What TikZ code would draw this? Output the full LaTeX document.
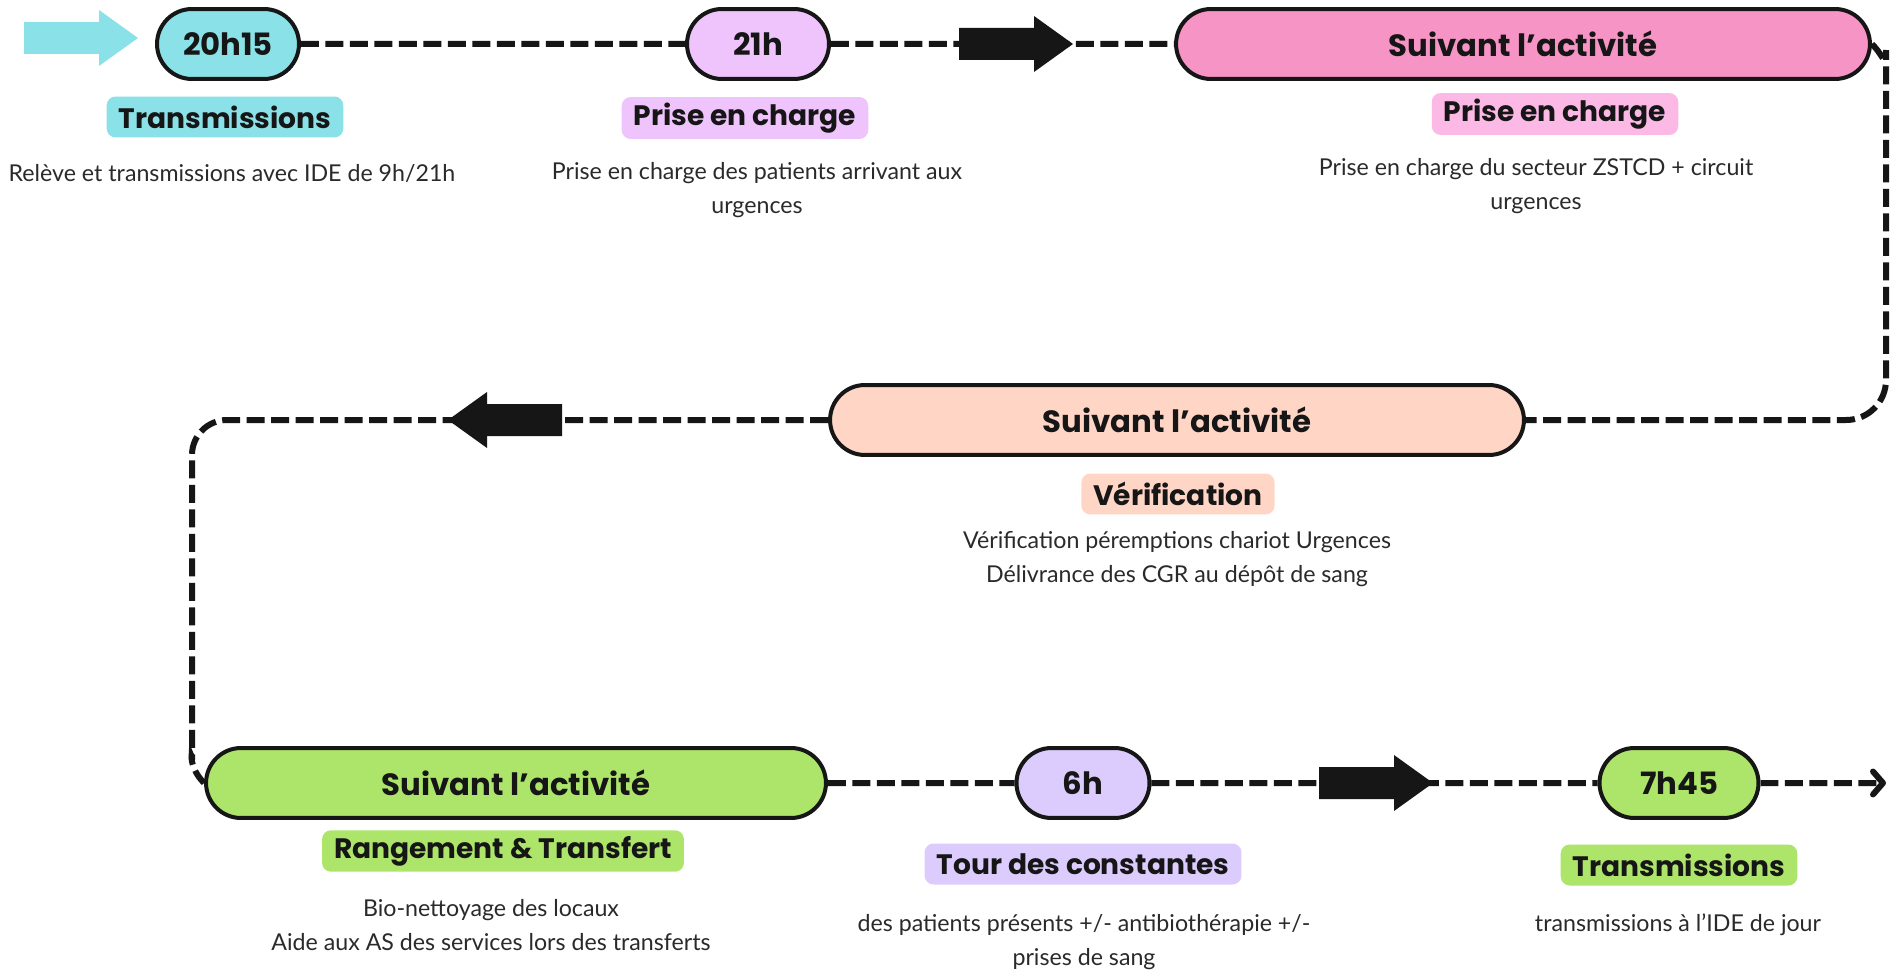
\documentclass[tikz,border=0pt]{standalone}
\usepackage{fontspec}
\usepackage{tikz}
\usetikzlibrary{shapes.misc,arrows.meta,backgrounds}
\setmainfont{Lato}
\newfontfamily\labfont{Poppins}
\definecolor{ink}{HTML}{161616}
\definecolor{txt}{HTML}{2A2A2A}
\definecolor{cyanish}{HTML}{8AE2E8}
\definecolor{lilac}{HTML}{EFC3FC}
\definecolor{pinkish}{HTML}{F794C6}
\definecolor{pinklight}{HTML}{FDB9E5}
\definecolor{peach}{HTML}{FFD6C6}
\definecolor{greenish}{HTML}{ADE56A}
\definecolor{lavender}{HTML}{DCCBFD}
\tikzset{
  pill/.style={rounded rectangle, draw=ink, line width=0.08cm, minimum height=1.4cm,
    inner xsep=0pt, text=ink, font=\labfont\bfseries\fontsize{17.5}{19}\selectfont},
  tag/.style={rounded corners=0.18cm, inner xsep=0.24cm, minimum height=0.82cm,
    text=ink, font=\labfont\bfseries\fontsize{16}{18}\selectfont},
  info/.style={align=center, text=txt, font=\fontsize{13.2}{19.5}\selectfont},
  conn/.style={draw=ink, line width=0.12cm, dash pattern=on 0.36cm off 0.13cm},
  bigarrow/.pic={\path[pic actions] (-57,-16) -- (18,-16) -- (18,-28) -- (57,0)
    -- (18,28) -- (18,16) -- (-57,16) -- cycle;}
}

\begin{document}
\begin{tikzpicture}[x={(0.02cm,0)}, y={(0,-0.02cm)}]
\useasboundingbox (0,0) rectangle (1897,973);

% first row
\node[pill, fill=cyanish, minimum width=2.84cm] (t2015) at (228,44) {20h15};
\node[pill, fill=lilac, minimum width=2.84cm] (t21) at (758,44) {21h};
\node[pill, fill=pinkish, minimum width=13.88cm] (act1) at (1523,44) {Suivant l’activité};
\node[tag, fill=cyanish] (lab1) at (225,117) {Transmissions};
\node[tag, fill=lilac] (lab2) at (745,118) {Prise en charge};
\node[tag, fill=pinklight] (lab3) at (1555,114) {Prise en charge};
\node[info] (txt1) at (232,173) {Relève et transmissions avec IDE de 9h/21h};
\node[info] (txt2) at (757,190) {Prise en charge des patients arrivant aux\\urgences};
\node[info] (txt3) at (1536,186) {Prise en charge du secteur ZSTCD + circuit\\urgences};

% second row
\node[pill, fill=peach, minimum width=13.88cm] (act2) at (1177,420) {Suivant l’activité};
\node[tag, fill=peach] (lab4) at (1178,494) {Vérification};
\node[info] (txt4) at (1177,559) {Vérification péremptions chariot Urgences\\Délivrance des CGR au dépôt de sang};

% third row
\node[pill, fill=greenish, minimum width=12.4cm] (act3) at (516,783) {Suivant l’activité};
\node[pill, fill=lavender, minimum width=2.66cm] (t6) at (1083,783) {6h};
\node[pill, fill=greenish, minimum width=3.18cm] (t745) at (1679,783) {7h45};
\node[tag, fill=greenish] (lab5) at (503,851) {Rangement \& Transfert};
\node[tag, fill=lavender] (lab6) at (1083,864) {Tour des constantes};
\node[tag, fill=greenish] (lab7) at (1679,865) {Transmissions};
\node[info] (txt5) at (491,925) {Bio-nettoyage des locaux\\Aide aux AS des services lors des transferts};
\node[info] (txt6) at (1084,942) {des patients présents +/- antibiothérapie +/-\\prises de sang};
\node[info] (txt7) at (1678,925) {transmissions à l’IDE de jour};

\coordinate (rtop) at (1886,90);
\coordinate (ldown) at (192,725);
\coordinate (fin) at (1886,783);

\begin{scope}[on background layer]
\fill[white] (0,0) rectangle (1897,973);
\draw[conn] (t2015) -- (t21);
\draw[conn] (t21) -- (act1);
\draw[conn, rounded corners=0.8cm] (act1.east) to[out=-45,in=90] (rtop) |- (act2.east);
\draw[conn, rounded corners=0.7cm] (act2.west) -| (ldown) to[out=-90,in=135] (act3.west);
\draw[conn] (act3) -- (t6);
\draw[conn] (t6) -- (t745);
\draw[conn, -{Straight Barb[length=0.2cm,width=0.46cm,round]}] (t745) -- (fin);
\end{scope}

% block arrows
\pic[fill=cyanish] at (81,38) {bigarrow};
\pic[fill=ink] at (1016,44) {bigarrow};
\pic[fill=ink, rotate=180] at (505,420) {bigarrow};
\pic[fill=ink] at (1376,783) {bigarrow};
\end{tikzpicture}
\end{document}
